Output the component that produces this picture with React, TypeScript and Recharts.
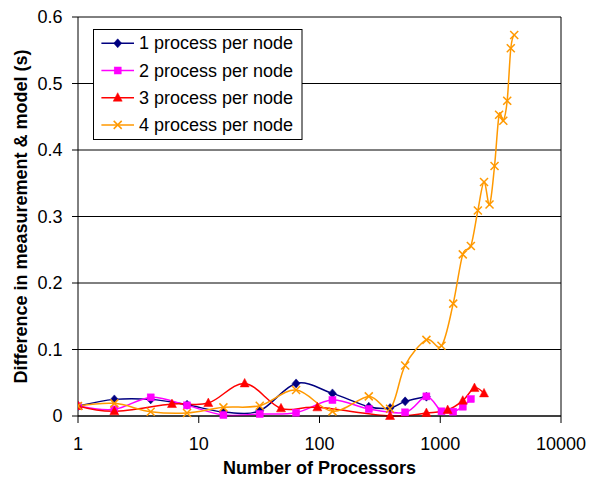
import React from 'react';
import { LineChart, Line, XAxis, YAxis, CartesianGrid, Legend, ReferenceLine, Label } from 'recharts';

// ---------- data ----------
const xTicks = [1, 10, 100, 1000, 10000];
const yTicks = [0, 0.1, 0.2, 0.3, 0.4, 0.5, 0.6];

const procs1 = [1, 2, 4, 8, 16, 32, 64, 128, 256, 384, 512, 768];
const diff1 = [0.015, 0.025, 0.025, 0.017, 0.006, 0.008, 0.049, 0.034, 0.014, 0.012, 0.022, 0.029];

const procs2 = [1, 2, 4, 8, 16, 32, 64, 128, 256, 512, 768, 1024, 1280, 1536, 1792];
const diff2 = [0.015, 0.01, 0.028, 0.016, 0.0015, 0.003, 0.005, 0.024, 0.0105, 0.0055, 0.0295, 0.007, 0.0065, 0.014, 0.0255];

const procs3 = [1, 2, 6, 12, 24, 48, 96, 384, 768, 1152, 1536, 1920, 2304];
const diff3 = [0.015, 0.007, 0.018, 0.0195, 0.049, 0.0115, 0.013, 0.0, 0.0045, 0.009, 0.023, 0.042, 0.034];

const procs4 = [1, 2, 4, 8, 16, 32, 64, 128, 256, 384, 512, 768, 1024, 1280, 1536, 1792, 2048, 2304, 2560, 2816, 3072, 3328, 3584, 3840, 4096];
const diff4 = [0.015, 0.019, 0.0065, 0.0045, 0.013, 0.0155, 0.039, 0.007, 0.0295, 0.011, 0.076, 0.1145, 0.1055, 0.169, 0.243, 0.2555, 0.309, 0.352, 0.318, 0.376, 0.453, 0.444, 0.474, 0.553, 0.573];

const seriesNames = ['1 process per node', '2 process per node', '3 process per node', '4 process per node'];
const seriesColors = ['#000080', '#FF00FF', '#FF0000', '#FF9900'];
const seriesMarkers = ['diamond', 'square', 'triangle', 'cross'];

const xTitle = 'Number of Processors';
const yTitle = 'Difference in measurement & model (s)';

const toPoints = (procs: number[], diffs: number[]) => procs.map((p, i) => ({ procs: p, diff: diffs[i] }));
const seriesData = [toPoints(procs1, diff1), toPoints(procs2, diff2), toPoints(procs3, diff3), toPoints(procs4, diff4)];

const FONT = '"Liberation Sans", Arial, sans-serif';

// Excel-like smoothed line (Catmull-Rom / cardinal tension 0)
function catmullRom(context: any) {
  const k = 1 / 6;
  let x0 = NaN, y0 = NaN, x1 = NaN, y1 = NaN, x2 = NaN, y2 = NaN, pt = 0, line = NaN;
  const seg = (x: number, y: number) => {
    context.bezierCurveTo(x1 + k * (x2 - x0), y1 + k * (y2 - y0), x2 + k * (x1 - x), y2 + k * (y1 - y), x2, y2);
  };
  return {
    areaStart() { line = 0; },
    areaEnd() { line = NaN; },
    lineStart() { x0 = x1 = x2 = y0 = y1 = y2 = NaN; pt = 0; },
    lineEnd() {
      if (pt === 2) context.lineTo(x2, y2);
      else if (pt === 3) seg(x1, y1);
      if (line || (line !== 0 && pt === 1)) context.closePath();
      line = 1 - line;
    },
    point(x: number, y: number) {
      x = +x; y = +y;
      switch (pt) {
        case 0: pt = 1; if (line) context.lineTo(x, y); else context.moveTo(x, y); break;
        case 1: pt = 2; x1 = x; y1 = y; break;
        case 2: pt = 3; seg(x, y); break;
        default: seg(x, y); break;
      }
      x0 = x1; x1 = x2; x2 = x;
      y0 = y1; y1 = y2; y2 = y;
    },
  };
}

function Marker({ kind, cx, cy, color }: { kind: string; cx: number; cy: number; color: string }) {
  if (cx == null || cy == null || isNaN(cx) || isNaN(cy)) return null;
  if (kind === 'diamond') {
    return <polygon points={`${cx},${cy - 4.5} ${cx + 4},${cy} ${cx},${cy + 4.5} ${cx - 4},${cy}`} fill={color} stroke={color} strokeWidth={0.5} />;
  }
  if (kind === 'square') {
    return <rect x={cx - 3.5} y={cy - 3.5} width={7} height={7} fill={color} stroke={color} strokeWidth={0.5} />;
  }
  if (kind === 'triangle') {
    return <polygon points={`${cx},${cy - 5} ${cx + 4.5},${cy + 3.5} ${cx - 4.5},${cy + 3.5}`} fill={color} stroke={color} strokeWidth={0.5} />;
  }
  return (
    <g stroke={color} strokeWidth={1.5}>
      <line x1={cx - 4} y1={cy - 4} x2={cx + 4} y2={cy + 4} />
      <line x1={cx - 4} y1={cy + 4} x2={cx + 4} y2={cy - 4} />
    </g>
  );
}

const makeDot = (kind: string, color: string) => (props: any) => (
  <g key={`dot-${kind}-${props.index}`}>
    <Marker kind={kind} cx={props.cx} cy={props.cy} color={color} />
  </g>
);

function LegendBox() {
  const rowY = (i: number) => 14.3 + i * 27.2;
  return (
    <svg width={210} height={111} style={{ display: 'block' }}>
      <rect x={0.5} y={0.5} width={208.5} height={110} fill="#fff" stroke="#000" strokeWidth={1} />
      {seriesNames.map((name, i) => (
        <g key={name}>
          <line x1={8.4} y1={rowY(i)} x2={41} y2={rowY(i)} stroke={seriesColors[i]} strokeWidth={1.5} />
          <Marker kind={seriesMarkers[i]} cx={24.7} cy={rowY(i)} color={seriesColors[i]} />
          <text x={46} y={rowY(i) + 6} fontSize={18} fill="#000" fontFamily={FONT}>{name}</text>
        </g>
      ))}
    </svg>
  );
}

export default function App() {
  return (
    <div style={{ position: 'absolute', left: 0, top: 0, width: 590, height: 478, background: '#fff', fontFamily: FONT }}>
      <LineChart width={590} height={478} margin={{ top: 17, right: 29, bottom: 2, left: 0 }}>
        <CartesianGrid vertical={false} stroke="#000" strokeWidth={1} />
        <XAxis
          dataKey="procs"
          type="number"
          scale="log"
          domain={[1, 10000]}
          ticks={xTicks}
          allowDataOverflow
          height={60}
          tickSize={7}
          tickMargin={14}
          axisLine={{ stroke: '#000' }}
          tickLine={{ stroke: '#000' }}
          tick={{ fill: '#000', fontSize: 18, fontFamily: FONT }}
        >
          <Label
            content={(p: any) => (
              <text x={p.viewBox.x + p.viewBox.width / 2} y={474} textAnchor="middle" fontSize={18} fontWeight="bold" fill="#000" fontFamily={FONT}>
                {xTitle}
              </text>
            )}
          />
        </XAxis>
        <YAxis
          type="number"
          domain={[0, 0.6]}
          ticks={yTicks}
          width={78}
          tickSize={6}
          tickMargin={9.5}
          axisLine={{ stroke: '#000' }}
          tickLine={{ stroke: '#000' }}
          tick={{ fill: '#000', fontSize: 18, fontFamily: FONT }}
        >
          <Label
            content={(p: any) => {
              const cy = p.viewBox.y + p.viewBox.height / 2;
              return (
                <text x={26.5} y={cy} transform={`rotate(-90, 26.5, ${cy})`} textAnchor="middle" fontSize={18} fontWeight="bold" fill="#000" fontFamily={FONT}>
                  {yTitle}
                </text>
              );
            }}
          />
        </YAxis>
        <ReferenceLine x={10000} stroke="#000" strokeWidth={1} />
        {seriesData.map((d, i) => (
          <Line
            key={seriesNames[i]}
            data={d}
            dataKey="diff"
            name={seriesNames[i]}
            type={catmullRom as any}
            stroke={seriesColors[i]}
            strokeWidth={1.5}
            dot={makeDot(seriesMarkers[i], seriesColors[i])}
            activeDot={false}
            isAnimationActive={false}
          />
        ))}
        <Legend
          layout="horizontal"
          verticalAlign="middle"
          align="center"
          content={() => <LegendBox />}
          wrapperStyle={{ left: 93, top: 29, width: 210, height: 111, right: 'auto', bottom: 'auto' }}
        />
      </LineChart>
    </div>
  );
}
